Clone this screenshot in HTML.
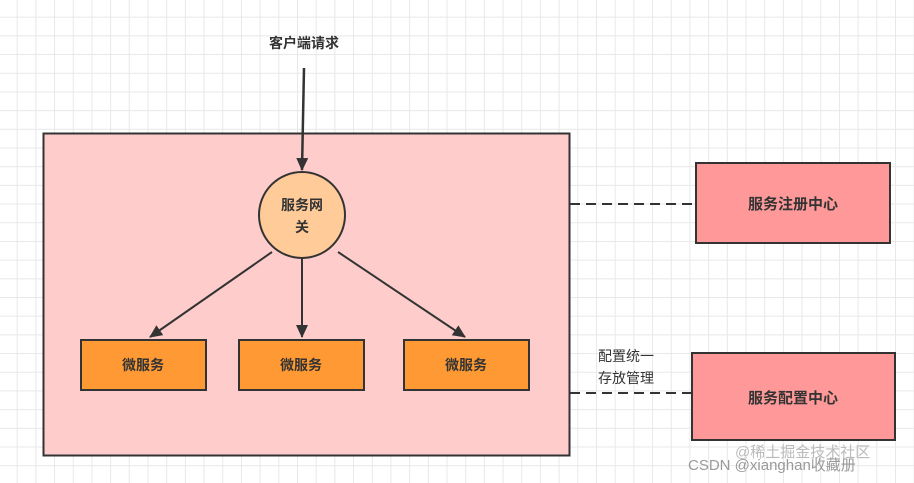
<!DOCTYPE html>
<html><head><meta charset="utf-8"><style>
body{margin:0;width:914px;height:483px;overflow:hidden;background:#fff;
background-image:linear-gradient(#e8e8e8 1px,transparent 1px),linear-gradient(90deg,#e8e8e8 1px,transparent 1px);background-size:18.7px 18.7px;background-position:-2px -2px;}
svg{position:absolute;left:0;top:0}
text{font-family:"Liberation Sans","Noto Sans CJK SC",sans-serif;fill:#333}
</style></head><body>
<svg width="914" height="483" viewBox="0 0 914 483">
<defs><marker id="a" markerWidth="10" markerHeight="10" refX="8" refY="5" orient="auto" markerUnits="userSpaceOnUse"><path d="M0,0 L10,5 L0,10 Z" fill="#333"/></marker>
<marker id="b" markerWidth="14" markerHeight="14" refX="12" refY="7" orient="auto" markerUnits="userSpaceOnUse"><path d="M0,1 L13,7 L0,13 Z" fill="#333"/></marker></defs>
<text x="304" y="48" font-size="14" font-weight="bold" text-anchor="middle">客户端请求</text>
<rect x="43.5" y="133.5" width="526" height="322" fill="#ffcccc" stroke="#333" stroke-width="2"/>
<line x1="304" y1="68" x2="302" y2="170" stroke="#333" stroke-width="2.5" marker-end="url(#b)"/>
<circle cx="302" cy="215" r="43" fill="#ffcc99" stroke="#333" stroke-width="2"/>
<text x="302" y="210" font-size="14" font-weight="bold" text-anchor="middle">服务网</text>
<text x="302" y="232" font-size="14" font-weight="bold" text-anchor="middle">关</text>
<line x1="272" y1="252" x2="150" y2="337" stroke="#333" stroke-width="2" marker-end="url(#b)"/>
<line x1="302" y1="258" x2="302" y2="337" stroke="#333" stroke-width="2" marker-end="url(#b)"/>
<line x1="338" y1="252" x2="465" y2="337" stroke="#333" stroke-width="2" marker-end="url(#b)"/>
<g stroke="#333" stroke-width="2" fill="#ff9933">
<rect x="81" y="340" width="125" height="50"/><rect x="239" y="340" width="125" height="50"/><rect x="404" y="340" width="125" height="50"/></g>
<g font-size="14" font-weight="bold" text-anchor="middle">
<text x="143" y="370">微服务</text><text x="301" y="370">微服务</text><text x="466" y="370">微服务</text></g>
<line x1="570" y1="204" x2="696" y2="204" stroke="#333" stroke-width="2" stroke-dasharray="10,6"/>
<line x1="570" y1="393" x2="692" y2="393" stroke="#333" stroke-width="2" stroke-dasharray="10,6"/>
<rect x="696" y="163" width="194" height="80" fill="#ff9999" stroke="#333" stroke-width="2"/>
<rect x="692" y="353" width="203" height="87" fill="#ff9999" stroke="#333" stroke-width="2"/>
<text x="793" y="209" font-size="15" font-weight="bold" text-anchor="middle">服务注册中心</text>
<text x="793" y="403" font-size="15" font-weight="bold" text-anchor="middle">服务配置中心</text>
<text x="598" y="361" font-size="14">配置统一</text>
<text x="598" y="383" font-size="14">存放管理</text>
<text x="735" y="457" font-size="15" style="fill:#bbb">@稀土掘金技术社区</text>
<text x="688" y="470" font-size="15" style="fill:#999">CSDN @xianghan收藏册</text>
</svg>
</body></html>
